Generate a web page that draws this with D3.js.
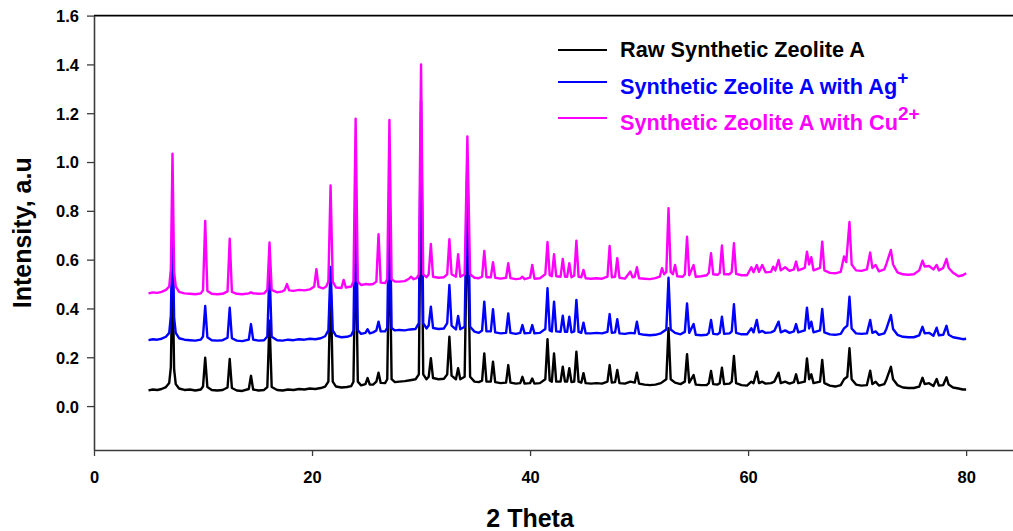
<!DOCTYPE html>
<html>
<head>
<meta charset="utf-8">
<script src="https://cdn.jsdelivr.net/npm/d3@7"></script>
<style>
  html, body { margin: 0; padding: 0; background: #fff; }
  svg { display: block; font-family: "Liberation Sans", Arial, sans-serif; }
</style>
</head>
<body>
<svg id="chart" width="1013" height="531"></svg>
<script>
// XRD patterns: [2θ (deg), intensity (a.u.)]
const rawZeoliteA = [
  [5.0,0.064],[5.4,0.068],[5.8,0.066],[6.2,0.070],[6.6,0.078],[6.9,0.095],[7.05,0.16],[7.2,0.56],[7.35,0.15],[7.5,0.09],[7.8,0.072],
  [8.3,0.066],[8.8,0.068],[9.3,0.064],[9.8,0.068],[10.0,0.08],[10.2,0.198],[10.4,0.078],[10.8,0.066],[11.3,0.064],[11.8,0.066],
  [12.25,0.076],[12.45,0.193],[12.65,0.074],[13.1,0.064],[13.6,0.062],[14.2,0.070],[14.4,0.124],[14.6,0.068],[15.1,0.064],[15.6,0.066],
  [15.9,0.078],[16.1,0.35],[16.3,0.078],[16.8,0.066],[17.3,0.064],[17.8,0.068],[18.3,0.066],[18.8,0.070],[19.3,0.068],[19.8,0.072],
  [20.3,0.070],[20.8,0.074],[21.2,0.08],[21.5,0.10],[21.7,0.52],[21.9,0.10],[22.2,0.08],[22.7,0.076],[23.2,0.078],[23.6,0.082],
  [23.8,0.10],[24.0,0.70],[24.2,0.10],[24.5,0.085],[24.9,0.09],[25.1,0.115],[25.3,0.088],[25.6,0.088],[25.9,0.10],[26.1,0.137],
  [26.3,0.095],[26.7,0.094],[26.9,0.11],[27.1,0.72],[27.3,0.11],[27.6,0.098],[28.0,0.10],[28.5,0.102],[29.0,0.106],[29.5,0.11],
  [29.8,0.13],[30.0,1.08],[30.2,0.13],[30.5,0.11],[30.7,0.12],[30.9,0.196],[31.1,0.115],[31.6,0.11],[32.1,0.112],[32.4,0.13],
  [32.6,0.284],[32.8,0.125],[33.2,0.11],[33.4,0.155],[33.6,0.11],[34.0,0.12],[34.25,0.82],[34.5,0.12],[34.9,0.10],[35.3,0.098],
  [35.6,0.104],[35.8,0.216],[36.0,0.10],[36.4,0.10],[36.6,0.182],[36.8,0.098],[37.3,0.094],[37.8,0.096],[38.0,0.168],[38.2,0.096],
  [38.7,0.092],[39.1,0.094],[39.3,0.12],[39.5,0.092],[40.0,0.094],[40.2,0.113],[40.4,0.092],[40.9,0.094],[41.4,0.11],[41.6,0.274],
  [41.8,0.105],[42.0,0.10],[42.2,0.216],[42.4,0.10],[42.8,0.10],[43.0,0.161],[43.2,0.10],[43.4,0.10],[43.6,0.155],[43.8,0.098],
  [44.05,0.10],[44.25,0.223],[44.45,0.10],[44.7,0.096],[44.9,0.135],[45.1,0.094],[45.6,0.092],[46.1,0.094],[46.6,0.092],[47.1,0.10],
  [47.3,0.168],[47.5,0.096],[47.8,0.098],[48.0,0.148],[48.2,0.094],[48.7,0.092],[49.2,0.10],[49.6,0.096],[49.8,0.137],[50.0,0.092],
  [50.5,0.088],[51.0,0.086],[51.5,0.088],[52.0,0.094],[52.5,0.11],[52.7,0.319],[52.9,0.11],[53.3,0.096],[53.8,0.09],[54.2,0.10],
  [54.4,0.213],[54.6,0.096],[55.0,0.127],[55.2,0.088],[55.7,0.086],[56.2,0.086],[56.4,0.094],[56.6,0.144],[56.8,0.09],[57.2,0.088],
  [57.4,0.094],[57.6,0.157],[57.8,0.09],[58.3,0.092],[58.5,0.10],[58.7,0.205],[58.9,0.094],[59.4,0.086],[59.9,0.084],[60.3,0.10],
  [60.5,0.094],[60.8,0.141],[61.0,0.094],[61.3,0.10],[61.6,0.092],[62.1,0.094],[62.4,0.10],[62.8,0.137],[63.0,0.094],[63.4,0.10],
  [63.8,0.092],[64.2,0.098],[64.4,0.13],[64.6,0.094],[65.2,0.10],[65.4,0.195],[65.6,0.11],[65.8,0.13],[66.0,0.094],[66.6,0.10],
  [66.8,0.189],[67.0,0.094],[67.5,0.084],[68.0,0.08],[68.5,0.086],[68.8,0.11],[69.1,0.12],[69.3,0.237],[69.5,0.11],[69.9,0.088],
  [70.4,0.084],[70.9,0.086],[71.2,0.145],[71.4,0.09],[71.7,0.10],[72.0,0.084],[72.5,0.09],[72.7,0.11],[73.1,0.161],[73.3,0.11],
  [73.7,0.086],[74.2,0.076],[74.7,0.074],[75.2,0.074],[75.7,0.08],[76.0,0.116],[76.2,0.09],[76.6,0.094],[77.0,0.082],[77.3,0.111],
  [77.5,0.084],[77.9,0.086],[78.2,0.118],[78.4,0.088],[78.8,0.076],[79.3,0.072],[79.7,0.068],[80.0,0.068]
];

const agZeoliteA = [
  [5.0,0.270],[5.4,0.274],[5.8,0.272],[6.2,0.276],[6.6,0.284],[6.9,0.30],[7.05,0.37],[7.2,0.75],[7.35,0.36],[7.5,0.30],[7.8,0.278],
  [8.3,0.272],[8.8,0.270],[9.3,0.268],[9.8,0.272],[10.0,0.285],[10.2,0.41],[10.4,0.282],[10.8,0.270],[11.3,0.268],[11.8,0.270],
  [12.25,0.28],[12.45,0.403],[12.65,0.278],[13.1,0.268],[13.6,0.266],[14.2,0.272],[14.4,0.336],[14.6,0.272],[15.1,0.268],[15.6,0.270],
  [15.9,0.285],[16.1,0.56],[16.3,0.284],[16.8,0.270],[17.3,0.268],[17.8,0.272],[18.3,0.270],[18.8,0.274],[19.3,0.272],[19.8,0.276],
  [20.3,0.274],[20.8,0.278],[21.2,0.286],[21.5,0.31],[21.7,0.57],[21.9,0.31],[22.2,0.288],[22.7,0.282],[23.2,0.284],[23.6,0.29],
  [23.8,0.31],[24.0,0.95],[24.2,0.31],[24.5,0.296],[24.9,0.30],[25.1,0.315],[25.3,0.298],[25.6,0.302],[25.9,0.31],[26.1,0.346],
  [26.3,0.306],[26.7,0.306],[26.9,0.32],[27.1,0.93],[27.3,0.32],[27.6,0.31],[28.0,0.312],[28.5,0.31],[29.0,0.314],[29.5,0.316],
  [29.8,0.34],[30.0,1.25],[30.2,0.34],[30.5,0.318],[30.7,0.33],[30.9,0.407],[31.1,0.32],[31.6,0.316],[32.1,0.318],[32.4,0.34],
  [32.6,0.496],[32.8,0.33],[33.2,0.314],[33.4,0.369],[33.6,0.315],[34.0,0.325],[34.25,1.02],[34.5,0.325],[34.9,0.305],[35.3,0.30],
  [35.6,0.31],[35.8,0.428],[36.0,0.306],[36.4,0.306],[36.6,0.397],[36.8,0.302],[37.3,0.298],[37.8,0.30],[38.0,0.38],[38.2,0.30],
  [38.7,0.296],[39.1,0.30],[39.3,0.332],[39.5,0.298],[40.0,0.30],[40.2,0.332],[40.4,0.298],[40.9,0.30],[41.4,0.316],[41.6,0.483],
  [41.8,0.31],[42.0,0.306],[42.2,0.428],[42.4,0.306],[42.8,0.304],[43.0,0.37],[43.2,0.304],[43.4,0.304],[43.6,0.366],[43.8,0.302],
  [44.05,0.306],[44.25,0.435],[44.45,0.304],[44.7,0.30],[44.9,0.342],[45.1,0.298],[45.6,0.298],[46.1,0.30],[46.6,0.298],[47.1,0.304],
  [47.3,0.377],[47.5,0.30],[47.8,0.302],[48.0,0.356],[48.2,0.298],[48.7,0.296],[49.2,0.30],[49.6,0.298],[49.8,0.346],[50.0,0.296],
  [50.5,0.292],[51.0,0.29],[51.5,0.292],[52.0,0.298],[52.5,0.314],[52.7,0.526],[52.9,0.314],[53.3,0.30],[53.8,0.294],[54.2,0.304],
  [54.4,0.421],[54.6,0.30],[55.0,0.336],[55.2,0.292],[55.7,0.29],[56.2,0.292],[56.4,0.30],[56.6,0.353],[56.8,0.296],[57.2,0.294],
  [57.4,0.30],[57.6,0.366],[57.8,0.296],[58.3,0.298],[58.5,0.306],[58.7,0.417],[58.9,0.30],[59.4,0.294],[59.9,0.294],[60.3,0.319],
  [60.5,0.302],[60.8,0.353],[61.0,0.302],[61.3,0.308],[61.6,0.30],[62.1,0.302],[62.4,0.308],[62.8,0.346],[63.0,0.302],[63.4,0.31],
  [63.8,0.30],[64.2,0.306],[64.4,0.336],[64.6,0.302],[65.2,0.31],[65.4,0.403],[65.6,0.318],[65.8,0.346],[66.0,0.302],[66.6,0.31],
  [66.8,0.398],[67.0,0.302],[67.5,0.294],[68.0,0.292],[68.5,0.296],[68.8,0.318],[69.1,0.33],[69.3,0.448],[69.5,0.318],[69.9,0.298],
  [70.4,0.296],[70.9,0.298],[71.2,0.353],[71.4,0.30],[71.7,0.306],[72.0,0.292],[72.5,0.298],[72.7,0.318],[73.1,0.373],[73.3,0.316],
  [73.7,0.292],[74.2,0.284],[74.7,0.282],[75.2,0.282],[75.7,0.29],[76.0,0.325],[76.2,0.298],[76.6,0.30],[77.0,0.288],[77.3,0.321],
  [77.5,0.29],[77.9,0.292],[78.2,0.329],[78.4,0.292],[78.8,0.282],[79.3,0.278],[79.7,0.274],[80.0,0.276]
];

const cuZeoliteA = [
  [5.0,0.462],[5.4,0.466],[5.8,0.464],[6.2,0.468],[6.6,0.476],[6.9,0.49],[7.05,0.56],[7.2,1.034],[7.35,0.55],[7.5,0.49],[7.8,0.468],
  [8.3,0.462],[8.8,0.460],[9.3,0.458],[9.8,0.462],[10.0,0.475],[10.2,0.759],[10.4,0.472],[10.8,0.460],[11.3,0.458],[11.8,0.460],
  [12.25,0.47],[12.45,0.686],[12.65,0.468],[13.1,0.460],[13.6,0.458],[14.2,0.462],[14.4,0.466],[14.6,0.462],[15.1,0.460],[15.6,0.462],
  [15.9,0.476],[16.1,0.67],[16.3,0.476],[16.8,0.466],[17.3,0.470],[17.5,0.476],[17.7,0.50],[17.9,0.474],[18.3,0.472],[18.8,0.476],
  [19.3,0.474],[19.8,0.478],[20.2,0.49],[20.4,0.561],[20.6,0.488],[21.0,0.482],[21.3,0.49],[21.5,0.51],[21.7,0.904],[21.9,0.51],
  [22.2,0.486],[22.7,0.484],[22.9,0.517],[23.1,0.486],[23.6,0.49],[23.8,0.51],[24.0,1.178],[24.2,0.51],[24.5,0.496],[24.9,0.50],
  [25.3,0.498],[25.6,0.50],[25.9,0.51],[26.1,0.704],[26.3,0.506],[26.7,0.504],[26.9,0.52],[27.1,1.172],[27.3,0.52],[27.6,0.51],
  [28.0,0.51],[28.5,0.512],[28.9,0.522],[29.1,0.53],[29.3,0.52],[29.6,0.524],[29.8,0.54],[30.0,1.40],[30.2,0.54],[30.5,0.528],
  [30.7,0.54],[30.9,0.664],[31.1,0.53],[31.6,0.526],[32.1,0.528],[32.4,0.54],[32.6,0.684],[32.8,0.54],[33.2,0.53],[33.4,0.622],
  [33.6,0.53],[34.0,0.54],[34.25,1.105],[34.5,0.54],[34.9,0.526],[35.3,0.524],[35.6,0.53],[35.8,0.636],[36.0,0.528],[36.4,0.528],
  [36.6,0.59],[36.8,0.526],[37.3,0.522],[37.8,0.526],[38.0,0.585],[38.2,0.524],[38.7,0.52],[39.1,0.522],[39.3,0.53],[39.5,0.52],
  [40.0,0.526],[40.2,0.578],[40.4,0.522],[40.9,0.524],[41.4,0.54],[41.6,0.672],[41.8,0.536],[42.0,0.532],[42.2,0.622],[42.4,0.532],
  [42.8,0.53],[43.0,0.603],[43.2,0.53],[43.4,0.53],[43.6,0.585],[43.8,0.528],[44.05,0.534],[44.25,0.678],[44.45,0.53],[44.7,0.528],
  [44.9,0.558],[45.1,0.524],[45.6,0.522],[46.1,0.524],[46.6,0.522],[47.1,0.53],[47.3,0.656],[47.5,0.528],[47.8,0.53],[48.0,0.606],
  [48.2,0.526],[48.7,0.522],[49.2,0.551],[49.4,0.528],[49.6,0.53],[49.8,0.569],[50.0,0.524],[50.5,0.522],[51.0,0.52],[51.5,0.524],
  [51.9,0.53],[52.1,0.565],[52.3,0.54],[52.5,0.55],[52.7,0.811],[52.9,0.55],[53.1,0.54],[53.3,0.578],[53.5,0.532],[54.0,0.53],
  [54.2,0.54],[54.4,0.694],[54.6,0.536],[55.0,0.578],[55.2,0.53],[55.7,0.532],[56.2,0.536],[56.4,0.546],[56.6,0.626],[56.8,0.54],
  [57.2,0.538],[57.4,0.546],[57.6,0.658],[57.8,0.54],[58.3,0.54],[58.5,0.55],[58.7,0.667],[58.9,0.542],[59.4,0.536],[59.9,0.536],
  [60.3,0.569],[60.5,0.548],[60.8,0.578],[61.0,0.55],[61.3,0.578],[61.6,0.548],[62.1,0.55],[62.3,0.571],[62.5,0.556],[62.8,0.599],
  [63.0,0.556],[63.4,0.569],[63.8,0.554],[64.2,0.56],[64.4,0.592],[64.6,0.556],[65.2,0.566],[65.4,0.633],[65.6,0.58],[65.8,0.61],
  [66.0,0.556],[66.6,0.566],[66.8,0.674],[67.0,0.556],[67.5,0.546],[68.0,0.544],[68.5,0.55],[68.8,0.613],[69.0,0.59],[69.3,0.754],
  [69.5,0.58],[69.9,0.556],[70.4,0.554],[70.9,0.56],[71.2,0.629],[71.4,0.566],[71.7,0.578],[72.0,0.552],[72.5,0.56],[72.7,0.585],
  [73.1,0.64],[73.3,0.58],[73.7,0.548],[74.2,0.54],[74.7,0.538],[75.2,0.54],[75.7,0.556],[76.0,0.596],[76.2,0.572],[76.6,0.574],
  [77.0,0.56],[77.3,0.578],[77.5,0.556],[77.9,0.566],[78.2,0.603],[78.4,0.566],[78.8,0.546],[79.3,0.532],[79.7,0.536],[80.0,0.544]
];

const seriesNames  = ["Raw Synthetic Zeolite A", "Synthetic Zeolite A with Ag", "Synthetic Zeolite A with Cu"];
const seriesSups   = ["", "+", "2+"];
const seriesColors = ["#000000", "#0000ff", "#ff00ff"];
const xTicks = [0, 20, 40, 60, 80];
const yTicks = [0.0, 0.2, 0.4, 0.6, 0.8, 1.0, 1.2, 1.4, 1.6];
const xTitle = "2 Theta";
const yTitle = "Intensity, a.u";

const svg = d3.select("#chart");
const W = 1013;

const x = d3.scaleLinear().domain([0, 84.3]).range([94, W]);
const y = d3.scaleLinear().domain([-0.18, 1.6]).range([450, 15.6]);

const axisColor = "#3c3c3c";
const labelFont = "Liberation Sans, Arial, sans-serif";

// traces (first listed is drawn first, so the Cu pattern sits on top)
const line = d3.line().x(d => x(d[0])).y(d => y(d[1]));
const allSeries = [rawZeoliteA, agZeoliteA, cuZeoliteA];
svg.append("g").selectAll("path")
  .data(allSeries)
  .join("path")
  .attr("d", line)
  .attr("fill", "none")
  .attr("stroke", (d, i) => seriesColors[i])
  .attr("stroke-width", 2.4)
  .attr("stroke-linejoin", "round");

// top frame line
svg.append("line")
  .attr("x1", x(0)).attr("x2", W)
  .attr("y1", y(1.6)).attr("y2", y(1.6))
  .attr("stroke", "#000").attr("stroke-width", 1.6);

// x axis
const gx = svg.append("g")
  .attr("transform", `translate(0,${y(-0.18)})`)
  .call(d3.axisBottom(x).tickValues(xTicks).tickFormat(d3.format("d")).tickSize(6).tickSizeOuter(0));
gx.select(".domain").attr("stroke", axisColor).attr("stroke-width", 1.6);
gx.selectAll(".tick line").attr("stroke", axisColor).attr("stroke-width", 1.3);
gx.selectAll(".tick text")
  .attr("y", 33).attr("dy", null)
  .attr("fill", "#000")
  .attr("font-size", 16.5).attr("font-weight", "bold")
  .attr("font-family", labelFont);

// y axis
const gy = svg.append("g")
  .attr("transform", `translate(${x(0)},0)`)
  .call(d3.axisLeft(y).tickValues(yTicks).tickFormat(d3.format(".1f")).tickSize(7).tickSizeOuter(0));
gy.select(".domain").attr("stroke", axisColor).attr("stroke-width", 1.6);
gy.selectAll(".tick line").attr("stroke", axisColor).attr("stroke-width", 1.3);
gy.selectAll(".tick text")
  .attr("x", -15)
  .attr("dy", "0.36em")
  .attr("fill", "#000")
  .attr("font-size", 16.5).attr("font-weight", "bold")
  .attr("font-family", labelFont);

// axis titles
svg.append("text")
  .attr("x", (x(0) + x(80)) / 2).attr("y", 527)
  .attr("text-anchor", "middle")
  .attr("font-size", 25).attr("font-weight", "bold")
  .text(xTitle);

svg.append("text")
  .attr("transform", `translate(31,${(y(-0.18) + y(1.6)) / 2}) rotate(-90)`)
  .attr("text-anchor", "middle")
  .attr("font-size", 25).attr("font-weight", "bold")
  .text(yTitle);

// legend
const legend = svg.append("g");
const legendRows = [50, 82, 118];
const legendBase = [57, 94, 130];
seriesNames.forEach((name, i) => {
  legend.append("line")
    .attr("x1", 558).attr("x2", 607)
    .attr("y1", legendRows[i]).attr("y2", legendRows[i])
    .attr("stroke", seriesColors[i]).attr("stroke-width", 2);
  const t = legend.append("text")
    .attr("x", 620).attr("y", legendBase[i])
    .attr("fill", seriesColors[i])
    .attr("font-size", 21.7).attr("font-weight", "bold");
  t.append("tspan").text(name);
  if (seriesSups[i]) {
    t.append("tspan").attr("dy", -10).attr("font-size", 19).text(seriesSups[i]);
  }
});
</script>
</body>
</html>
